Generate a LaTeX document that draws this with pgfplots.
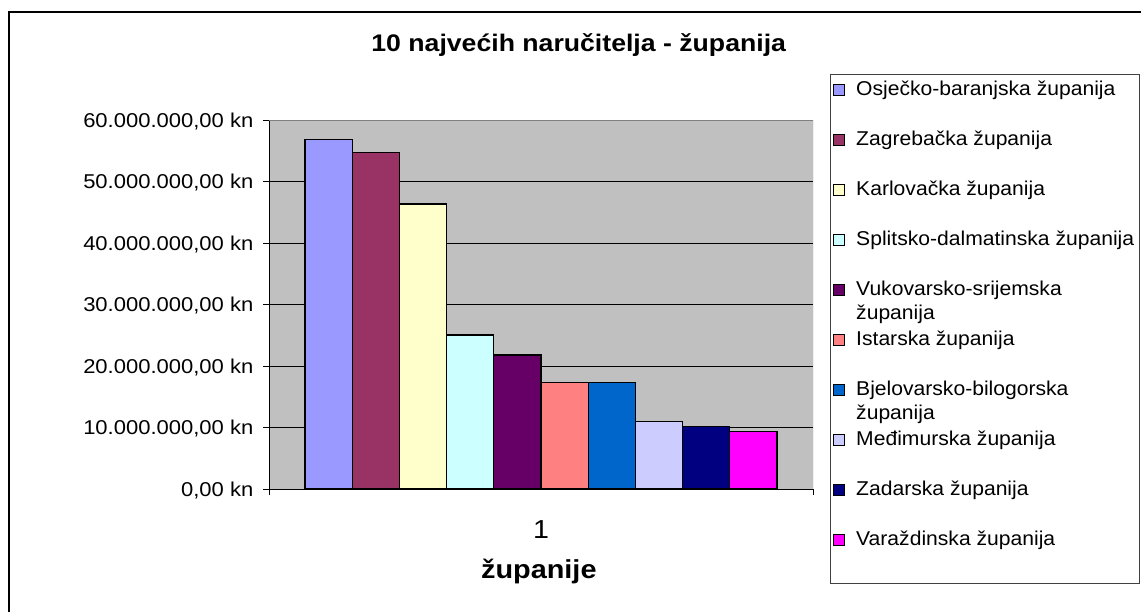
\documentclass[border=0pt]{standalone}
\usepackage{fontspec}
\setmainfont{Liberation Sans}[FakeStretch=1.1]
\newfontfamily\titlefont{Liberation Sans}[FakeStretch=1.11]
\newfontfamily\legendfont{Liberation Sans}[FakeStretch=1.055]
\usepackage{pgfplots}
\pgfplotsset{compat=1.18}

\definecolor{silver}{HTML}{C0C0C0}
\definecolor{c1}{HTML}{9999FF}
\definecolor{c2}{HTML}{993366}
\definecolor{c3}{HTML}{FFFFCC}
\definecolor{c4}{HTML}{CCFFFF}
\definecolor{c5}{HTML}{660066}
\definecolor{c6}{HTML}{FF8080}
\definecolor{c7}{HTML}{0066CC}
\definecolor{c8}{HTML}{CCCCFF}
\definecolor{c9}{HTML}{000080}
\definecolor{c10}{HTML}{FF00FF}

\begin{document}
\begin{tikzpicture}[x=1pt,y=1pt]
\useasboundingbox (0,0) rectangle (1141,611);
% chart frame (cut at right and bottom) and legend frame
\draw[line width=2pt] (9.3,-20) -- (9.3,599) -- (1170,599);
\draw[black!75, line width=1pt] (830,28) rectangle (1139,536);
\begin{axis}[
  at={(269pt,122pt)}, anchor=south west,
  scale only axis, width=544pt, height=369pt,
  xmin=0.5, xmax=1.5, ymin=0, ymax=60000000,
  axis x line*=bottom, axis y line*=left,
  axis line style={-, line width=1pt, black},
  axis background/.style={fill=silver},
  ybar=0pt, bar width=47.2pt,
  ytick={0,10000000,20000000,30000000,40000000,50000000,60000000},
  yticklabels={{0,00 kn},{10.000.000,00 kn},{20.000.000,00 kn},{30.000.000,00 kn},{40.000.000,00 kn},{50.000.000,00 kn},{60.000.000,00 kn}},
  scaled y ticks=false,
  ymajorgrids, major grid style={line width=1pt, black},
  tick align=outside, major tick length=6pt,
  tick style={line width=1pt, black},
  xtick={1}, xticklabels={1}, xtick style={draw=none},
  extra x ticks={0.5,1.5}, extra x tick labels={},
  extra x tick style={xtick style={draw=black}},
  yticklabel style={font=\fontsize{20}{24}\selectfont, anchor=base east, inner sep=0pt, xshift=-9.5pt, yshift=-7.2pt},
  xticklabel style={font=\fontsize{26}{30}\selectfont, anchor=base, yshift=-43.3pt},
  title={10 najvećih naručitelja - županija},
  title style={font=\titlefont\bfseries\fontsize{24}{28}\selectfont, at={(axis description cs:0.5693,1.1699)}, anchor=base},
  xlabel={županije},
  xlabel style={font=\titlefont\bfseries\fontsize{26}{30}\selectfont, at={(axis description cs:0.496,-0.2439)}, anchor=base},
  legend style={at={(axis description cs:1.0368,1.107)}, anchor=north west,
    draw=none, fill=none, inner sep=0pt,
    font=\legendfont\fontsize{20}{24}\selectfont,
    nodes={text height=15pt, text depth=35pt, inner sep=0pt},
    cells={anchor=base west},
    column sep=11pt, row sep=0pt},
  legend image code/.code={\draw[#1, draw=black, line width=1pt] (0pt,0pt) rectangle (11pt,11pt);},
]
\addplot[fill=c1, draw=black, line width=1.3pt] coordinates {(1,56860000)};
\addlegendentry{Osječko-baranjska županija}
\addplot[fill=c2, draw=black, line width=1.3pt] coordinates {(1,54680000)};
\addlegendentry{Zagrebačka županija}
\addplot[fill=c3, draw=black, line width=1.3pt] coordinates {(1,46340000)};
\addlegendentry{Karlovačka županija}
\addplot[fill=c4, draw=black, line width=1.3pt] coordinates {(1,25040000)};
\addlegendentry{Splitsko-dalmatinska županija}
\addplot[fill=c5, draw=black, line width=1.3pt] coordinates {(1,21790000)};
\addlegendentry{\begin{tabular}[t]{@{}l@{}}Vukovarsko-srijemska\\županija\end{tabular}}
\addplot[fill=c6, draw=black, line width=1.3pt] coordinates {(1,17280000)};
\addlegendentry{Istarska županija}
\addplot[fill=c7, draw=black, line width=1.3pt] coordinates {(1,17280000)};
\addlegendentry{\begin{tabular}[t]{@{}l@{}}Bjelovarsko-bilogorska\\županija\end{tabular}}
\addplot[fill=c8, draw=black, line width=1.3pt] coordinates {(1,11000000)};
\addlegendentry{Međimurska županija}
\addplot[fill=c9, draw=black, line width=1.3pt] coordinates {(1,10200000)};
\addlegendentry{Zadarska županija}
\addplot[fill=c10, draw=black, line width=1.3pt] coordinates {(1,9320000)};
\addlegendentry{Varaždinska županija}
\draw[gray, line width=1pt] (rel axis cs:0,1) -- (rel axis cs:1,1) -- (rel axis cs:1,0);
\end{axis}
\end{tikzpicture}
\end{document}
